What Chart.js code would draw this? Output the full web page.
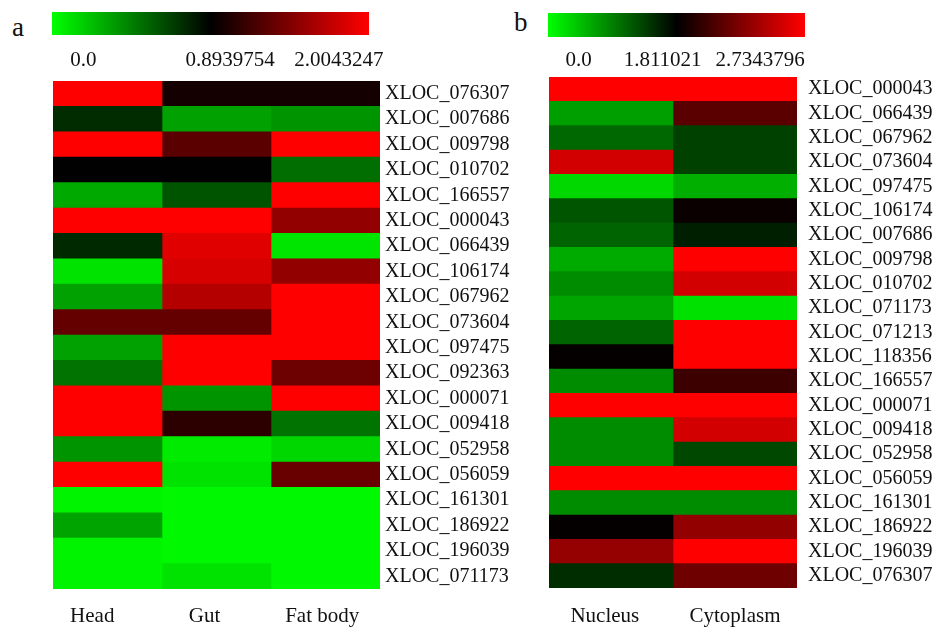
<!DOCTYPE html>
<html>
<head>
<meta charset="utf-8">
<title>Heatmap</title>
<script src="https://cdn.jsdelivr.net/npm/chart.js@4.4.1/dist/chart.umd.min.js"></script>
<style>
  html, body { margin: 0; padding: 0; background: #fff; }
  #page { position: relative; width: 938px; height: 627px; overflow: hidden; }
  #page canvas { position: absolute; }
  .panel-tag { position: absolute; font-family: "Liberation Serif", "Times New Roman", serif; font-size: 27px; line-height: 1; color: #111; }
</style>
</head>
<body>
<div id="page">
  <span class="panel-tag" style="left:12px; top:14px;">a</span>
  <span class="panel-tag" style="left:514px; top:9px;">b</span>
  <canvas id="leyenda-a" width="470" height="75" style="left:0; top:0;"></canvas>
  <canvas id="mapa-a" width="520" height="552" style="left:0; top:75px;"></canvas>
  <canvas id="leyenda-b" width="418" height="75" style="left:520px; top:0;"></canvas>
  <canvas id="mapa-b" width="418" height="555" style="left:520px; top:72px;"></canvas>
</div>
<script>
// Panel a: tejidos
const tejidosA = ['Head', 'Gut', 'Fat body'];
const genesA = ['XLOC_076307', 'XLOC_007686', 'XLOC_009798', 'XLOC_010702', 'XLOC_166557',
    'XLOC_000043', 'XLOC_066439', 'XLOC_106174', 'XLOC_067962', 'XLOC_073604',
    'XLOC_097475', 'XLOC_092363', 'XLOC_000071', 'XLOC_009418', 'XLOC_052958',
    'XLOC_056059', 'XLOC_161301', 'XLOC_186922', 'XLOC_196039', 'XLOC_071173'];
const head = [2.00, 0.74, 2.00, 0.89, 0.30, 2.00, 0.75, 0.10, 0.33, 1.33,
    0.33, 0.49, 2.00, 2.00, 0.37, 2.00, 0.04, 0.32, 0.04, 0.04];
const gut = [0.98, 0.33, 1.29, 0.89, 0.60, 2.00, 1.87, 1.83, 1.68, 1.33,
    2.00, 2.00, 0.37, 1.09, 0.07, 0.10, 0.02, 0.02, 0.02, 0.10];
const fatBody = [0.98, 0.37, 2.00, 0.51, 2.00, 1.53, 0.09, 1.53, 2.00, 2.00,
    2.00, 1.37, 2.00, 0.49, 0.14, 1.35, 0.02, 0.02, 0.02, 0.02];
const escalaA = ['0.0', '0.8939754', '2.0043247'];

// Panel b: fracciones celulares
const fraccionesB = ['Nucleus', 'Cytoplasm'];
const genesB = ['XLOC_000043', 'XLOC_066439', 'XLOC_067962', 'XLOC_073604', 'XLOC_097475',
    'XLOC_106174', 'XLOC_007686', 'XLOC_009798', 'XLOC_010702', 'XLOC_071173',
    'XLOC_071213', 'XLOC_118356', 'XLOC_166557', 'XLOC_000071', 'XLOC_009418',
    'XLOC_052958', 'XLOC_056059', 'XLOC_161301', 'XLOC_186922', 'XLOC_196039', 'XLOC_076307'];
const nucleus = [2.73, 0.68, 1.07, 2.57, 0.28, 1.21, 1.10, 0.60, 0.82, 0.64,
    1.10, 1.83, 0.82, 2.73, 0.82, 0.82, 2.73, 0.82, 1.83, 2.35, 1.49];
const cytoplasm = [2.73, 2.14, 1.35, 1.35, 0.57, 1.85, 1.60, 2.73, 2.57, 0.21,
    2.73, 2.73, 2.03, 2.73, 2.57, 1.31, 2.73, 0.82, 2.34, 2.73, 2.21];
const escalaB = ['0.0', '1.811021', '2.7343796'];

const serif = '"Liberation Serif", "Times New Roman", serif';
const fuenteGenes = { family: serif, size: 20 };
const fuenteEjes = { family: serif, size: 21 };

// Verde (mínimo) -> negro (medio) -> rojo (máximo)
function colorCelda(v, medio, maximo) {
    if (v <= medio) {
        const g = Math.round(255 * (1 - v / medio));
        return `rgb(0,${Math.max(0, g)},0)`;
    }
    const r = Math.round(255 * (v - medio) / (maximo - medio));
    return `rgb(${Math.min(255, r)},0,0)`;
}

// Quita el margen extra que Chart.js reserva para las etiquetas de los extremos
function sinMargenes(s) {
    s.paddingTop = 0;
    s.paddingBottom = 0;
    s.paddingLeft = 0;
    s.paddingRight = 0;
}

// Barra de color con etiquetas debajo
function crearLeyenda(id, etiquetas, posiciones, padding, alto, sep) {
    new Chart(document.getElementById(id), {
        type: 'bar',
        data: {
            labels: [''],
            datasets: [{
                data: [1],
                borderWidth: 0,
                barPercentage: 1,
                categoryPercentage: 1,
                backgroundColor: function (ctx) {
                    const area = ctx.chart.chartArea;
                    if (!area) return '#000';
                    const grad = ctx.chart.ctx.createLinearGradient(area.left, 0, area.right, 0);
                    grad.addColorStop(0, 'rgb(0,255,0)');
                    grad.addColorStop(0.5, 'rgb(0,0,0)');
                    grad.addColorStop(1, 'rgb(255,0,0)');
                    return grad;
                }
            }]
        },
        options: {
            indexAxis: 'y',
            responsive: false,
            animation: false,
            layout: { padding: padding },
            plugins: { legend: { display: false }, tooltip: { enabled: false } },
            scales: {
                x: {
                    min: 0, max: 1,
                    grid: { display: false, drawTicks: false },
                    border: { display: false },
                    afterBuildTicks: s => { s.ticks = posiciones.map(p => ({ value: p })); },
                    afterFit: s => { s.height = alto; sinMargenes(s); },
                    ticks: {
                        padding: sep,
                        color: '#111',
                        font: fuenteEjes,
                        maxRotation: 0,
                        autoSkip: false,
                        callback: (v, i) => etiquetas[i]
                    }
                },
                y: { display: false }
            }
        }
    });
}

// Mapa de calor como barras horizontales apiladas (una serie por columna)
function crearMapa(id, genes, columnas, series, escala, opts) {
    const medio = parseFloat(escala[1]);
    const maximo = parseFloat(escala[2]);
    new Chart(document.getElementById(id), {
        type: 'bar',
        data: {
            labels: genes,
            datasets: series.map((valores, i) => ({
                label: columnas[i],
                data: valores.map(() => 1),
                backgroundColor: valores.map(v => colorCelda(v, medio, maximo)),
                borderWidth: 0,
                barPercentage: 1,
                categoryPercentage: 1
            }))
        },
        options: {
            indexAxis: 'y',
            responsive: false,
            animation: false,
            layout: { padding: opts.padding },
            plugins: { legend: { display: false }, tooltip: { enabled: false } },
            scales: {
                x: {
                    stacked: true,
                    min: 0, max: columnas.length,
                    grid: { display: false, drawTicks: false },
                    border: { display: false },
                    afterBuildTicks: s => { s.ticks = opts.posColumnas.map(p => ({ value: p })); },
                    afterFit: s => { s.height = opts.altoX; sinMargenes(s); },
                    ticks: {
                        padding: opts.sepX,
                        color: '#111',
                        font: fuenteEjes,
                        maxRotation: 0,
                        autoSkip: false,
                        callback: (v, i) => columnas[i]
                    }
                },
                y: {
                    stacked: true,
                    position: 'right',
                    grid: { display: false, drawTicks: false },
                    border: { display: false },
                    afterFit: s => { s.width = opts.anchoY; sinMargenes(s); },
                    ticks: { padding: opts.sepY, color: '#111', font: fuenteGenes, autoSkip: false }
                }
            }
        }
    });
}

document.addEventListener('DOMContentLoaded', function () {
    crearLeyenda('leyenda-a', escalaA, [0.099, 0.562, 0.905],
        { left: 52, right: 101, top: 12, bottom: 0 }, 40, 13);
    crearLeyenda('leyenda-b', escalaB, [0.119, 0.446, 0.825],
        { left: 28, right: 133, top: 13, bottom: 0 }, 38, 11);

    crearMapa('mapa-a', genesA, tejidosA, [head, gut, fatBody], escalaA, {
        padding: { left: 53, right: 5, top: 6, bottom: 0 },
        posColumnas: [0.36, 1.39, 2.47],
        altoX: 38, sepX: 15, sepY: 5, anchoY: 135
    });
    crearMapa('mapa-b', genesB, fraccionesB, [nucleus, cytoplasm], escalaB, {
        padding: { left: 29, right: 1, top: 5, bottom: 0 },
        posColumnas: [0.45, 1.5],
        altoX: 39, sepX: 16, sepY: 11, anchoY: 140
    });
});
</script>
</body>
</html>
